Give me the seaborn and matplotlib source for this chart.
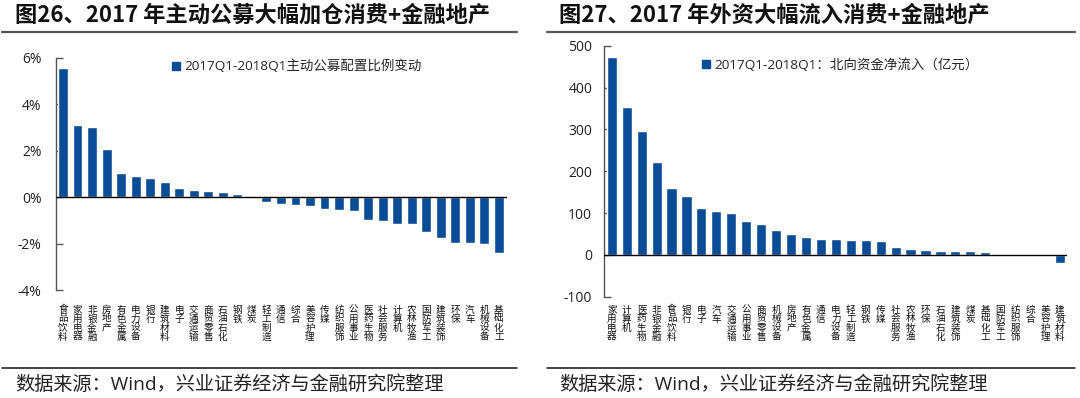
import numpy as np
import pandas as pd
import seaborn as sns
import matplotlib.pyplot as plt
import matplotlib.transforms as mtrans
from matplotlib.lines import Line2D

# 图26 data: change of active fund allocation (%)
fund_names = ['食品饮料', '家用电器', '非银金融', '房地产', '有色金属', '电力设备', '银行', '建筑材料',
              '电子', '交通运输', '商贸零售', '石油石化', '钢铁', '煤炭', '轻工制造', '通信', '综合',
              '美容护理', '传媒', '纺织服饰', '公用事业', '医药生物', '社会服务', '计算机', '农林牧渔',
              '国防军工', '建筑装饰', '环保', '汽车', '机械设备', '基础化工']
fund_change = [5.54, 3.12, 3.02, 2.06, 1.04, 0.92, 0.82, 0.63, 0.37, 0.30, 0.27, 0.20, 0.13,
               -0.06, -0.20, -0.29, -0.36, -0.40, -0.50, -0.55, -0.59, -0.98, -1.02, -1.14,
               -1.17, -1.50, -1.74, -1.96, -1.96, -2.03, -2.39]
fund_label = '2017Q1-2018Q1主动公募配置比例变动'

# 图27 data: northbound net inflow (亿元)
north_names = ['家用电器', '计算机', '医药生物', '非银金融', '食品饮料', '银行', '电子', '汽车',
               '交通运输', '公用事业', '商贸零售', '机械设备', '房地产', '有色金属', '通信', '电力设备',
               '轻工制造', '钢铁', '传媒', '社会服务', '农林牧渔', '环保', '石油石化', '建筑装饰',
               '煤炭', '基础化工', '国防军工', '纺织服饰', '综合', '美容护理', '建筑材料']
north_flow = [474, 353, 296, 223, 159, 141, 111, 105, 101, 81, 73, 60, 50, 42, 37, 37, 35, 35,
              33, 19, 14, 11, 10, 10, 10, 6, 3, 2.5, 1.5, 1, -19]
north_label = '2017Q1-2018Q1：北向资金净流入（亿元）'

bar_color = '#0B4C96'
latin = ['Open Sans', 'Noto Sans CJK SC', 'DejaVu Sans']
cjk = ['Noto Sans CJK SC', 'DejaVu Sans']

sns.set_theme(style='white')
plt.rcParams['font.family'] = cjk
plt.rcParams['axes.unicode_minus'] = False

fig = plt.figure(figsize=(10.8, 3.98), dpi=100)
W, H = 1080, 398


def px_axes(x0, x1, ytop, ybot):
    return fig.add_axes([x0 / W, 1 - ybot / H, (x1 - x0) / W, (ybot - ytop) / H])


def draw_panel(ax, names, vals, label, ylim, yticks, fmt, xlim, ypad):
    df = pd.DataFrame({'name': names, 'val': vals})
    sns.barplot(data=df, x='name', y='val', color=bar_color, width=0.68, ax=ax,
                saturation=1, label=label)
    ax.set_xlim(*xlim)
    ax.set_ylim(*ylim)
    ax.set_yticks(yticks)
    ax.set_yticklabels([fmt(v) for v in yticks], fontsize=10, color='#222222', family=latin)
    ax.set_xticks([])
    ax.tick_params(axis='y', length=5, width=1, color='#555555', direction='in', left=True, pad=ypad)
    ax.set_xlabel(None)
    ax.set_ylabel(None)
    for s in ['top', 'right', 'bottom']:
        ax.spines[s].set_visible(False)
    ax.spines['left'].set_color('#555555')
    ax.spines['left'].set_linewidth(1)
    ax.axhline(0, color='black', lw=1, zorder=5)
    ax.legend().remove()
    # category names written vertically, one character per row
    tr = mtrans.blended_transform_factory(ax.transData, fig.transFigure)
    for i, n in enumerate(names):
        for j, ch in enumerate(n):
            ax.text(i, 1 - (310 + 9 * j) / H, ch, transform=tr, ha='center', va='center',
                    fontsize=6.9, color='#111111', clip_on=False)


ax1 = px_axes(56, 507, 57.7, 290)
draw_panel(ax1, fund_names, fund_change, fund_label, (-4, 6), [-4, -2, 0, 2, 4, 6],
           lambda v: f'{v:d}%', (-0.48, 30.56), 10.5)

ax2 = px_axes(604, 1067, 45.7, 296.7)
draw_panel(ax2, north_names, north_flow, north_label, (-100, 500), list(range(-100, 501, 100)),
           lambda v: f'{v:d}', (-0.52, 30.47), 8.5)

# legends
for lx, ly, txt in [(171, 66.5, fund_label), (701, 65, north_label)]:
    h = Line2D([], [], marker='s', linestyle='none', markersize=6, color=bar_color)
    fig.legend(handles=[h], labels=[txt], loc='center left', bbox_to_anchor=(lx / W, 1 - ly / H),
               frameon=False, prop={'family': latin, 'size': 9.7}, handlelength=0.7,
               handletextpad=0.3, borderaxespad=0, borderpad=0)

# titles, rules and source notes
fig.text(15 / W, 1 - 15 / H, '图26、2017 年主动公募大幅加仓消费+金融地产', fontsize=16,
         fontweight='bold', va='center', ha='left', color='#111111')
fig.text(559 / W, 1 - 15 / H, '图27、2017 年外资大幅流入消费+金融地产', fontsize=16,
         fontweight='bold', va='center', ha='left', color='#111111')
for x0, x1 in [(2, 517), (547, 1075)]:
    fig.add_artist(Line2D([x0 / W, x1 / W], [1 - 32 / H, 1 - 32 / H], color='#555555', lw=1.6))
    fig.add_artist(Line2D([x0 / W, x1 / W], [1 - 368 / H, 1 - 368 / H], color='#111111', lw=1.1))
src = '数据来源：Wind，兴业证券经济与金融研究院整理'
for sx in [15, 559]:
    fig.text(sx / W, 1 - 385 / H, src, fontsize=13.8, va='center', ha='left', color='#222222',
             family=latin)

fig.savefig('out.png', dpi=100, facecolor='white')
